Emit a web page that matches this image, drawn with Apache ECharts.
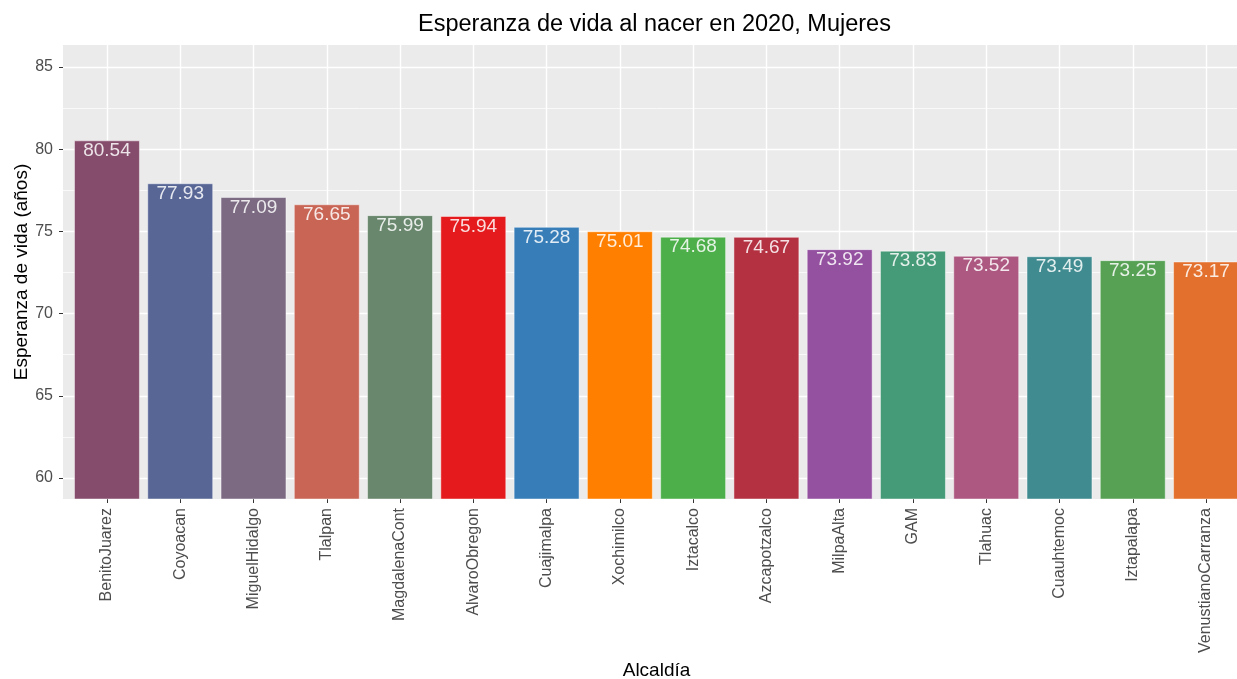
<!DOCTYPE html>
<html>
<head>
<meta charset="utf-8">
<script src="https://cdn.jsdelivr.net/npm/echarts@6/dist/echarts.min.js"></script>
<style>html,body{margin:0;padding:0;background:#fff;overflow:hidden;width:1237px;height:679px}#c{width:1270px;height:679px}</style>
</head>
<body>
<div id="c"></div>
<script>
const categories = ['BenitoJuarez','Coyoacan','MiguelHidalgo','Tlalpan','MagdalenaCont','AlvaroObregon','Cuajimalpa','Xochimilco','Iztacalco','Azcapotzalco','MilpaAlta','GAM','Tlahuac','Cuauhtemoc','Iztapalapa','VenustianoCarranza'];
const values = [80.54, 77.93, 77.09, 76.65, 75.99, 75.94, 75.28, 75.01, 74.68, 74.67, 73.92, 73.83, 73.52, 73.49, 73.25, 73.17];
const barColors = ['#854C6B','#586696','#7B6A82','#C86555','#68876C','#E41A1C','#377EB8','#FF7F00','#4DAF4A','#B43142','#9451A0','#459A77','#AC5880','#3F8B90','#57A155','#E3712D'];
const yMajorTicks = [60, 65, 70, 75, 80, 85];
const yMinorTicks = [62.5, 67.5, 72.5, 77.5, 82.5];
const yMin = 58.72, yMax = 86.34;

const FONT = '"Liberation Sans", Arial, sans-serif';
const chart = echarts.init(document.getElementById('c'), null, {renderer: 'canvas'});

const panelLeft = 63, panelTop = 45, panelBottom = 180, panelWidth = 1187;
const band = panelWidth / (categories.length + 0.2);

chart.setOption({
  animation: false,
  graphic: [{
    type: 'text', left: 418, top: 13,
    style: {text: 'Esperanza de vida al nacer en 2020, Mujeres', font: '23.5px ' + FONT, fill: '#000'}
  }],
  grid: [
    {left: panelLeft, top: panelTop, bottom: panelBottom, width: panelWidth, show: true, backgroundColor: '#EBEBEB', borderWidth: 0, outerBoundsMode: 'none', containLabel: false},
    {left: panelLeft + 0.1 * band, top: panelTop, bottom: panelBottom, width: band * categories.length, show: false, outerBoundsMode: 'none', containLabel: false}
  ],
  xAxis: [
    {gridIndex: 0, type: 'value', min: -0.6, max: categories.length - 1 + 0.6,
      axisLine: {show: false, onZero: false}, axisLabel: {show: false},
      axisTick: {show: false, customValues: categories.map((c, i) => i)},
      splitLine: {show: true, lineStyle: {color: '#fff', width: 1.4}}},
    {gridIndex: 1, type: 'category', data: categories,
      axisLine: {show: false, onZero: false},
      axisTick: {show: true, alignWithLabel: true, length: 4, lineStyle: {color: '#333', width: 1}},
      axisLabel: {rotate: 90, margin: 9, fontFamily: FONT, fontSize: 16, color: '#4D4D4D'},
      splitLine: {show: false},
      name: 'Alcaldía', nameLocation: 'middle', nameGap: 159,
      nameTextStyle: {fontFamily: FONT, fontSize: 19, color: '#000'}}
  ],
  yAxis: [
    {gridIndex: 0, type: 'value', min: yMin, max: yMax,
      axisLine: {show: false, onZero: false},
      axisTick: {show: true, length: 4, customValues: yMajorTicks, lineStyle: {color: '#333', width: 1}},
      axisLabel: {customValues: yMajorTicks, margin: 10, fontFamily: FONT, fontSize: 16, color: '#4D4D4D'},
      splitLine: {show: true, lineStyle: {color: '#fff', width: 1.4}},
      name: 'Esperanza de vida (años)', nameLocation: 'middle', nameGap: 32, nameRotate: 90,
      nameMoveOverlap: false,
      nameTextStyle: {fontFamily: FONT, fontSize: 19, color: '#000'}},
    {gridIndex: 0, type: 'value', min: yMin, max: yMax,
      axisLine: {show: false, onZero: false}, axisLabel: {show: false},
      axisTick: {show: false, customValues: yMinorTicks},
      splitLine: {show: true, lineStyle: {color: '#fff', width: 0.7}}},
    {gridIndex: 1, type: 'value', min: yMin, max: yMax, show: false, splitLine: {show: false}}
  ],
  series: [{
    type: 'bar', xAxisIndex: 1, yAxisIndex: 2, barWidth: '90%',
    data: values.map((v, i) => ({value: v, itemStyle: {color: barColors[i]}})),
    itemStyle: {borderColor: 'rgba(255,255,255,0.45)', borderWidth: 1},
    label: {show: true, position: 'insideTop', distance: 1, color: 'rgba(255,255,255,0.85)',
      fontFamily: FONT, fontSize: 19, formatter: p => p.value.toFixed(2)}
  }]
});
</script>
</body>
</html>
